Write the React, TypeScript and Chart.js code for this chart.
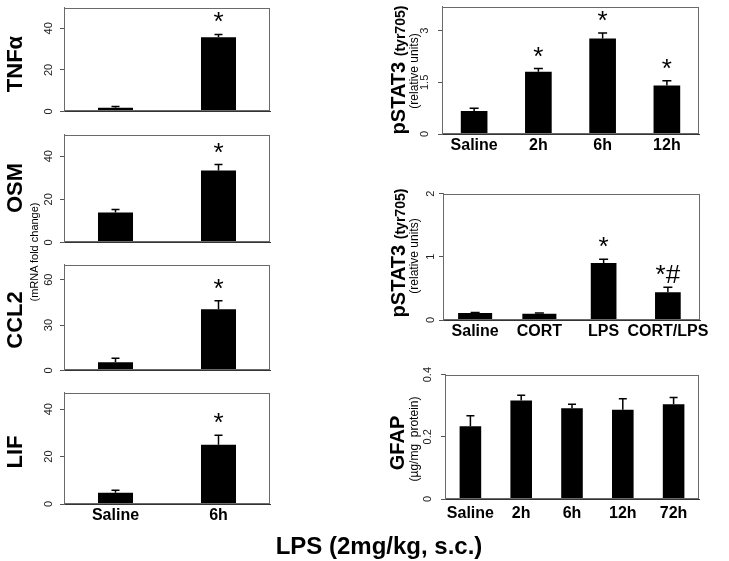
import React, { useEffect, useRef } from "react";
import { Chart, registerables } from "chart.js";
Chart.register(...registerables);

const FONT = "'Liberation Sans', Arial, Helvetica, sans-serif";

// ---- Left column: mRNA fold change, LPS 6h ----
const leftCategories = ["Saline", "6h"];
const tnfValues = [1.7, 35.7];
const tnfErrors = [0.7, 1.4];
const tnfSig = ["", "*"];
const tnfTicks = [0, 20, 40];

const osmValues = [13.9, 33.3];
const osmErrors = [1.4, 2.8];
const osmSig = ["", "*"];
const osmTicks = [0, 20, 40];

const ccl2Values = [5.4, 40.5];
const ccl2Errors = [2.6, 5.5];
const ccl2Sig = ["", "*"];
const ccl2Ticks = [0, 30, 60];

const lifValues = [4.7, 25.0];
const lifErrors = [1.1, 4.0];
const lifSig = ["", "*"];
const lifTicks = [0, 20, 40];

// ---- Right column ----
const stat3TimeCategories = ["Saline", "2h", "6h", "12h"];
const stat3TimeValues = [0.67, 1.81, 2.77, 1.41];
const stat3TimeErrors = [0.08, 0.09, 0.16, 0.14];
const stat3TimeSig = ["", "*", "*", "*"];
const stat3TimeTicks = [0, 1.5, 3];

const stat3CortCategories = ["Saline", "CORT", "LPS", "CORT/LPS"];
const stat3CortValues = [0.11, 0.1, 0.9, 0.44];
const stat3CortErrors = [0.01, 0.01, 0.06, 0.08];
const stat3CortSig = ["", "", "*", "*#"];
const stat3CortTicks = [0, 1, 2];

const gfapCategories = ["Saline", "2h", "6h", "12h", "72h"];
const gfapValues = [0.234, 0.317, 0.292, 0.287, 0.305];
const gfapErrors = [0.034, 0.017, 0.013, 0.035, 0.021];
const gfapSig = ["", "", "", "", ""];
const gfapTicks = [0, 0.2, 0.4];

type PanelCfg = {
  id: string;
  categories: string[];
  values: number[];
  errors: number[];
  sig: string[];
  ticks: number[];
  max: number;
  box: [number, number, number, number]; // l, t, r, b
  showX: boolean;
  xPad: number;
  barPct: number[];
  cap: number;
};

const panels: PanelCfg[] = [
  { id: "tnf", categories: leftCategories, values: tnfValues, errors: tnfErrors, sig: tnfSig, ticks: tnfTicks, max: 50, box: [64, 6, 270, 123], showX: false, xPad: 2, barPct: [0.34, 0.34], cap: 8 },
  { id: "osm", categories: leftCategories, values: osmValues, errors: osmErrors, sig: osmSig, ticks: osmTicks, max: 50, box: [64, 133, 270, 254], showX: false, xPad: 2, barPct: [0.34, 0.34], cap: 8 },
  { id: "ccl2", categories: leftCategories, values: ccl2Values, errors: ccl2Errors, sig: ccl2Sig, ticks: ccl2Ticks, max: 70, box: [64, 263, 270, 382], showX: false, xPad: 2, barPct: [0.34, 0.34], cap: 8 },
  { id: "lif", categories: leftCategories, values: lifValues, errors: lifErrors, sig: lifSig, ticks: lifTicks, max: 47, box: [64, 391, 270, 504], showX: true, xPad: 2, barPct: [0.34, 0.34], cap: 8 },
  { id: "stat3t", categories: stat3TimeCategories, values: stat3TimeValues, errors: stat3TimeErrors, sig: stat3TimeSig, ticks: stat3TimeTicks, max: 3.7, box: [442, 5, 699, 134], showX: true, xPad: 2, barPct: [0.415, 0.415, 0.415, 0.415], cap: 9 },
  { id: "stat3c", categories: stat3CortCategories, values: stat3CortValues, errors: stat3CortErrors, sig: stat3CortSig, ticks: stat3CortTicks, max: 2, box: [443, 192, 700, 320], showX: true, xPad: 2, barPct: [0.53, 0.53, 0.4, 0.4], cap: 9 },
  { id: "gfap", categories: gfapCategories, values: gfapValues, errors: gfapErrors, sig: gfapSig, ticks: gfapTicks, max: 0.4, box: [445, 373, 699, 499], showX: true, xPad: 5, barPct: [0.425, 0.425, 0.425, 0.425, 0.425], cap: 8 },
];

const PT = 10;
const PR = 40;
const YW = 40;

function Panel({ cfg }: { cfg: PanelCfg }) {
  const ref = useRef<HTMLCanvasElement | null>(null);
  const [l, t, r, b] = cfg.box;
  const xH = cfg.showX ? 30 : 0;
  const width = r - l + YW + PR;
  const height = PT + (b - t) + xH;

  useEffect(() => {
    if (!ref.current) return;
    const pcts = Array.from(new Set(cfg.barPct));
    const datasets = pcts.map((p) => ({
      data: cfg.values.map((v, i) => (cfg.barPct[i] === p ? v : null)),
      backgroundColor: "#000",
      borderWidth: 0,
      barPercentage: p,
      categoryPercentage: 1,
      grouped: false,
    }));
    const annot = {
      id: "annot" + cfg.id,
      afterDatasetsDraw(chart: any) {
        const { ctx, chartArea, scales } = chart;
        const x = scales.x;
        const y = scales.y;
        ctx.save();
        ctx.strokeStyle = "#6a6a6a";
        ctx.lineWidth = 1;
        const L = Math.round(chartArea.left) + 0.5;
        const T = Math.round(chartArea.top) + 0.5;
        const R = Math.round(chartArea.right) - 0.5;
        const B = Math.round(chartArea.bottom) - 0.5;
        ctx.strokeRect(L, T, R - L, B - T);
        ctx.strokeStyle = "#000";
        ctx.lineWidth = 1.5;
        cfg.values.forEach((v, i) => {
          const xp = x.getPixelForValue(i);
          const y0 = y.getPixelForValue(v);
          const y1 = y.getPixelForValue(v + cfg.errors[i]);
          ctx.beginPath();
          ctx.moveTo(xp, y0);
          ctx.lineTo(xp, y1);
          ctx.moveTo(xp - cfg.cap / 2, y1);
          ctx.lineTo(xp + cfg.cap / 2, y1);
          ctx.stroke();
          if (cfg.sig[i]) {
            ctx.fillStyle = "#000";
            ctx.font = "26px " + FONT;
            ctx.textAlign = "center";
            ctx.textBaseline = "alphabetic";
            ctx.fillText(cfg.sig[i], xp, y1 - 4);
          }
        });
        ctx.restore();
      },
    };
    const chart = new Chart(ref.current, {
      type: "bar",
      data: { labels: cfg.categories, datasets: datasets as any },
      options: {
        animation: false,
        responsive: false,
        maintainAspectRatio: false,
        layout: { padding: { top: PT, right: PR, left: 0, bottom: 0 } },
        plugins: {
          legend: { display: false },
          tooltip: { enabled: false },
          title: { display: false },
        },
        scales: {
          x: {
            type: "category",
            offset: true,
            grid: { display: false, drawTicks: false },
            border: { display: true, color: "#333", width: 1 },
            ticks: {
              display: cfg.showX,
              autoSkip: false,
              maxRotation: 0,
              minRotation: 0,
              padding: cfg.xPad,
              color: "#000",
              font: { family: FONT, size: 16, weight: "bold" },
            },
            afterFit: (s: any) => {
              s.height = xH;
            },
          },
          y: {
            min: 0,
            max: cfg.max,
            afterBuildTicks: (s: any) => {
              s.ticks = cfg.ticks.map((v) => ({ value: v }));
            },
            grid: { drawOnChartArea: false, drawTicks: true, tickLength: 4, color: "#555" },
            border: { display: true, color: "#6a6a6a", width: 1 },
            ticks: {
              minRotation: 90,
              maxRotation: 90,
              crossAlign: "center",
              padding: 5,
              color: "#222",
              font: { family: FONT, size: 11 },
              callback: (v: any) => String(v),
            },
            afterFit: (s: any) => {
              s.width = YW;
            },
          },
        },
      } as any,
      plugins: [annot],
    });
    return () => chart.destroy();
  }, []);

  return (
    <canvas
      ref={ref}
      width={width}
      height={height}
      style={{ position: "absolute", left: l - YW, top: t - PT, width, height }}
    />
  );
}

function RotText({ cx, cy, children, style }: { cx: number; cy: number; children: any; style?: any }) {
  return (
    <div
      style={{
        position: "absolute",
        left: cx,
        top: cy,
        transform: "translate(-50%, -50%) rotate(-90deg)",
        whiteSpace: "nowrap",
        lineHeight: 1,
        fontFamily: FONT,
        color: "#000",
        ...style,
      }}
    >
      {children}
    </div>
  );
}

const leftTitle = { fontSize: 22, fontWeight: "bold" };
const bigTitle = { fontSize: 20, fontWeight: "bold" };
const smallBold = { fontSize: 14, fontWeight: "bold" };
const unitStyle = { fontSize: 12 };

export default function App() {
  return (
    <div
      style={{
        position: "absolute",
        left: 0,
        top: 0,
        width: 729,
        height: 561,
        background: "#fff",
        overflow: "hidden",
        fontFamily: FONT,
      }}
    >
      {panels.map((p) => (
        <Panel key={p.id} cfg={p} />
      ))}
      <RotText cx={15} cy={64} style={leftTitle}>TNFα</RotText>
      <RotText cx={15} cy={188} style={leftTitle}>OSM</RotText>
      <RotText cx={15} cy={320} style={leftTitle}>CCL2</RotText>
      <RotText cx={15} cy={452} style={leftTitle}>LIF</RotText>
      <RotText cx={34} cy={252} style={{ fontSize: 11 }}>(mRNA fold change)</RotText>

      <RotText cx={398} cy={70} style={bigTitle}>
        pSTAT3 <span style={smallBold}>(tyr705)</span>
      </RotText>
      <RotText cx={414} cy={71} style={unitStyle}>(relative units)</RotText>

      <RotText cx={398} cy={253} style={bigTitle}>
        pSTAT3 <span style={smallBold}>(tyr705)</span>
      </RotText>
      <RotText cx={414} cy={256} style={unitStyle}>(relative units)</RotText>

      <RotText cx={397} cy={443} style={bigTitle}>GFAP</RotText>
      <RotText cx={414} cy={439} style={unitStyle}>(µg/mg&nbsp;&nbsp;protein)</RotText>

      <div
        style={{
          position: "absolute",
          left: 379,
          top: 546,
          transform: "translate(-50%, -50%)",
          whiteSpace: "nowrap",
          fontSize: 24,
          fontWeight: "bold",
          lineHeight: 1,
          color: "#000",
        }}
      >
        LPS (2mg/kg, s.c.)
      </div>
    </div>
  );
}
